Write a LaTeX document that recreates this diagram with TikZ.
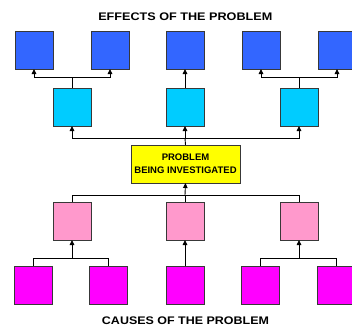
\documentclass[tikz,border=0pt]{standalone}
\usepackage{fontspec}
\setmainfont{Liberation Sans}
\usetikzlibrary{arrows.meta}
\definecolor{effblue}{HTML}{3366FF}
\definecolor{effcyan}{HTML}{00CCFF}
\definecolor{cauPink}{HTML}{FF99CC}
\definecolor{cauMag}{HTML}{FF00FF}
\definecolor{probYel}{HTML}{FFFF00}
\definecolor{edge}{HTML}{383838}
\tikzset{
  sq/.style={draw=edge, line width=1pt, minimum width=38pt, minimum height=38pt, inner sep=0pt, outer sep=0pt},
  blue box/.style={sq, fill=effblue},
  cyan box/.style={sq, fill=effcyan},
  pink box/.style={sq, fill=cauPink},
  mag box/.style={sq, fill=cauMag},
  prob box/.style={draw=edge, line width=1pt, fill=probYel, minimum width=109pt, minimum height=38pt, inner sep=0pt, outer sep=0pt, align=center, font=\bfseries\fontsize{9.5}{13}\selectfont},
  title/.style={font=\bfseries\fontsize{11}{12}\selectfont, inner sep=0pt, anchor=base},
  link/.style={line width=0.9pt, black},
  arr/.style={link, -{Triangle[width=4.5pt,length=5pt]}},
}
\begin{document}
\begin{tikzpicture}[x=1pt,y=-1pt]
\useasboundingbox (0,0) rectangle (352,327);
\clip (0,0) rectangle (352,327);
% titles
\node[title] (toptitle) at (185.3,20) {\scalebox{1.148}[1]{EFFECTS OF THE PROBLEM}};
\node[title] (bottitle) at (185.5,324) {\scalebox{1.134}[1]{CAUSES OF THE PROBLEM}};
% effects
\node[blue box] (b1) at (34,50) {};
\node[blue box] (b2) at (110,50) {};
\node[blue box] (b3) at (185,50) {};
\node[blue box] (b4) at (261,50) {};
\node[blue box] (b5) at (337,50) {};
\node[cyan box] (c1) at (72,107) {};
\node[cyan box] (c2) at (185,107) {};
\node[cyan box] (c3) at (299,107) {};
% problem
\node[prob box] (p) at (185.5,164) {PROBLEM\\BEING INVESTIGATED};
% causes
\node[pink box] (k1) at (72,221) {};
\node[pink box] (k2) at (185,221) {};
\node[pink box] (k3) at (299,221) {};
\node[mag box] (m1) at (33,285) {};
\node[mag box] (m2) at (108,285) {};
\node[mag box] (m3) at (185,285) {};
\node[mag box] (m4) at (260,285) {};
\node[mag box] (m5) at (336,285) {};
% junction coordinates
\coordinate (j1) at (72,77);
\coordinate (j3) at (299,77);
\coordinate (jp) at (185,138);
\coordinate (jk) at (185,195);
\coordinate (jm1) at (72,258);
\coordinate (jm3) at (299,258);
% cyan -> blue
\draw[link] (c1.north) -- (j1);
\draw[arr] (j1) -| (b1.south);
\draw[arr] (j1) -| (b2.south);
\draw[arr] (c2.north) -- (b3.south);
\draw[link] (c3.north) -- (j3);
\draw[arr] (j3) -| (b4.south);
\draw[arr] (j3) -| (b5.south);
% problem -> cyan
\draw[link] (p.north) -- (jp);
\draw[arr] (jp) -| (c1.south);
\draw[arr] (jp) -| (c3.south);
\draw[arr] (jp) -- (c2.south);
% pink -> problem
\draw[link] (k1.north) |- (jk);
\draw[link] (k3.north) |- (jk);
\draw[link] (k2.north) -- (jk);
\draw[arr] (jk) -- (p.south);
% magenta -> pink
\draw[link] (m1.north) |- (jm1);
\draw[link] (m2.north) |- (jm1);
\draw[arr] (jm1) -- (k1.south);
\draw[arr] (m3.north) -- (k2.south);
\draw[link] (m4.north) |- (jm3);
\draw[link] (m5.north) |- (jm3);
\draw[arr] (jm3) -- (k3.south);
\end{tikzpicture}
\end{document}
